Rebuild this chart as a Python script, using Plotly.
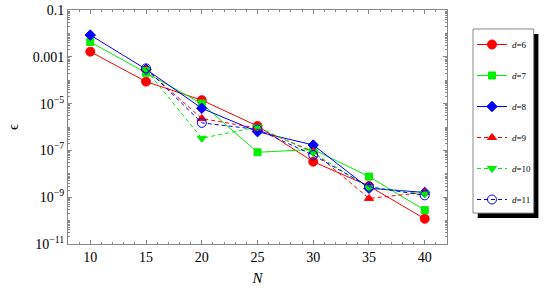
import plotly.graph_objects as go

N = [10, 15, 20, 25, 30, 35, 40]
N_late = [15, 20, 25, 30, 35, 40]

eps_d6 = [1.66e-3, 8.7e-5, 1.4e-5, 1.1e-6, 3.3e-8, 3.0e-9, 1.2e-10]
eps_d7 = [4.3e-3, 2.1e-4, 1.0e-5, 8.3e-8, 1.1e-7, 7.6e-9, 2.8e-10]
eps_d8 = [8.5e-3, 2.95e-4, 6.3e-6, 6.3e-7, 1.7e-7, 2.4e-9, 1.6e-9]
eps_d9 = [2.95e-4, 2.3e-6, 8.9e-7, 8.9e-8, 8.9e-10, 1.6e-9]
eps_d10 = [2.8e-4, 3.3e-7, 1.0e-6, 7.9e-8, 2.5e-9, 1.4e-9]
eps_d11 = [3.2e-4, 1.5e-6, 7.9e-7, 6.3e-8, 2.8e-9, 1.2e-9]

ytick_vals = [1e-1, 1e-3, 1e-5, 1e-7, 1e-9, 1e-11]
ytick_text = ["0.1", "0.001", "10<sup>\u22125</sup>", "10<sup>\u22127</sup>",
              "10<sup>\u22129</sup>", "10<sup>\u221211</sup>"]
xtick_vals = [10, 15, 20, 25, 30, 35, 40]

series = [
    ("<i>d</i>=6", N, eps_d6, "#FF0000", "solid", "circle", 9),
    ("<i>d</i>=7", N, eps_d7, "#00EE00", "solid", "square", 7),
    ("<i>d</i>=8", N, eps_d8, "#0000FF", "solid", "diamond", 8),
    ("<i>d</i>=9", N_late, eps_d9, "#FF0000", "dash", "triangle-up", 8),
    ("<i>d</i>=10", N_late, eps_d10, "#00EE00", "dash", "triangle-down", 8),
    ("<i>d</i>=11", N_late, eps_d11, "#0000FF", "dash", "circle-open", 9),
]

fig = go.Figure()
for i, (name, xs, ys, col, dash, sym, size) in enumerate(series):
    fig.add_trace(go.Scatter(
        x=xs, y=ys, name=name, mode="lines+markers",
        line=dict(color=col, width=1, dash=dash if dash == "solid" else "4px,3px"),
        marker=dict(symbol=sym, size=size, color=col, line=dict(color=col, width=1)),
        legendgroup=f"g{i}",
    ))

W, H = 550, 300
L, R, T, B = 68.3, 447.3, 10.0, 244.3


def px(x):
    return (x - L) / (R - L)


def py(y):
    return (B - y) / (B - T)


# legend shadow and frame
fig.add_shape(type="rect", xref="paper", yref="paper",
              x0=px(478), x1=px(538.7), y0=py(218.3), y1=py(34),
              fillcolor="black", line=dict(width=0), layer="above")
fig.add_shape(type="rect", xref="paper", yref="paper",
              x0=px(473.3), x1=px(534), y0=py(213.3), y1=py(29),
              fillcolor="white", line=dict(width=1, color="#888888"), layer="above")

serif = "Liberation Serif"
axis_common = dict(
    showline=True, linecolor="#888888", linewidth=1, mirror="ticks",
    ticks="inside", tickcolor="#888888", ticklen=4, showgrid=False, zeroline=False,
    automargin=False, ticklabeloverflow="allow",
    tickfont=dict(family=serif, size=14, color="black"),
)

fig.update_layout(
    template="none",
    width=W, height=H,
    margin=dict(l=L, r=W - R, t=T, b=H - B, autoexpand=False),
    paper_bgcolor="white", plot_bgcolor="white",
    showlegend=True,
    legend=dict(
        xref="container", yref="container",
        x=472 / W, y=1 - 30 / H, xanchor="left", yanchor="top",
        bgcolor="rgba(0,0,0,0)", borderwidth=0,
        font=dict(family=serif, size=9, color="black"),
        tracegroupgap=12, itemwidth=30, maxheight=290,
    ),
    xaxis=dict(range=[8, 42], tickvals=xtick_vals,
               minor=dict(ticks="inside", ticklen=2, dtick=1, tickcolor="#888888"),
               title=dict(text="<i>N</i>", font=dict(family=serif, size=15, color="black"), standoff=8),
               **axis_common),
    yaxis=dict(type="log", range=[-11, -1], tickvals=ytick_vals, ticktext=ytick_text,
               minor=dict(ticks="inside", ticklen=2, tickcolor="#888888", dtick="D1"),
               title=dict(text="\u03f5", font=dict(family=serif, size=15, color="black"), standoff=10),
               **axis_common),
)

fig.write_html("out.html", config={"displayModeBar": False},
               post_script="document.body.style.margin='0';document.body.style.padding='0';")
